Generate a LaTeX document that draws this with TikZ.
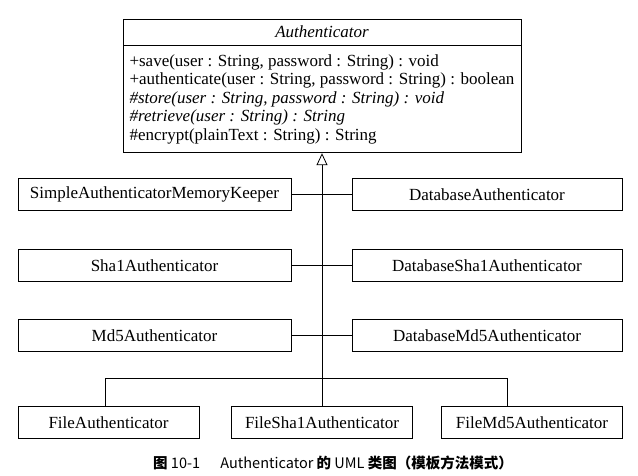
\documentclass[tikz,border=0pt]{standalone}
\usepackage{fontspec}
\setmainfont{Liberation Serif}
\newfontfamily\cjk{Noto Sans CJK SC}
\usetikzlibrary{positioning,arrows.meta}
\tikzset{class node/.style={rectangle,draw,minimum height=32pt,inner sep=0pt,font=\fontsize{17}{18.6}\selectfont} }
\tikzset{inherit/.style={-{Triangle[open,length=12pt,width=11pt]}} }

\begin{document}
\begin{tikzpicture}[line width=0.8pt]
\useasboundingbox (0,0) rectangle (638pt,-475pt);

  \node[class node,minimum width=398pt,minimum height=26pt,font=\fontsize{17}{18.6}\selectfont\itshape] (auth) at (322pt,-32pt) {Authenticator};
  \node[class node,minimum width=398pt,minimum height=107pt,align=left] (ops) [below=0pt of auth] {+save(user : String, password : String) : void\\
    +authenticate(user : String, password : String) : boolean\\
    \textit{\#store(user : String, password : String) : void}\\
    \textit{\#retrieve(user : String) : String}\\
    \#encrypt(plainText : String) : String};

\begin{scope}[on grid]
  \node[class node,minimum width=273pt] (simple) [below left=95.5pt and 167.5pt of ops] {SimpleAuthenticatorMemoryKeeper};
  \node[class node,minimum width=270pt] (dbauth) [right=332.5pt of simple] {DatabaseAuthenticator};
  \node[class node,minimum width=273pt] (sha1) [below=70.5pt of simple] {Sha1Authenticator};
  \node[class node,minimum width=270pt] (dbsha1) [right=332.5pt of sha1] {DatabaseSha1Authenticator};
  \node[class node,minimum width=273pt] (md5) [below=70.5pt of sha1] {Md5Authenticator};
  \node[class node,minimum width=270pt] (dbmd5) [right=332.5pt of md5] {DatabaseMd5Authenticator};

  \node[class node,minimum width=181pt] (fileauth) [below left=86.5pt and 46pt of md5] {FileAuthenticator};
  \node[class node,minimum width=181pt] (filesha1) [right=213.5pt of fileauth] {FileSha1Authenticator};
  \node[class node,minimum width=181pt] (filemd5) [right=210pt of filesha1] {FileMd5Authenticator};
\end{scope}

  \coordinate (bus) at ([yshift=28pt]filesha1.north);

  \path (simple) edge (dbauth)
    (sha1) edge (dbsha1)
    (md5) edge (dbmd5);
  \draw[inherit] (filesha1.north) -- (ops.south);
  \draw ([xshift=-3pt]fileauth.north) |- (bus) -| ([xshift=-25pt]filemd5.north);

  \node[font=\cjk\fontsize{14.5}{17}\selectfont] (caption) at (333pt,-463pt) {{\bfseries 图} 10-1\hspace{1.4em}Authenticator {\bfseries 的} UML {\bfseries 类图（模板方法模式）}};
\end{tikzpicture}
\end{document}
